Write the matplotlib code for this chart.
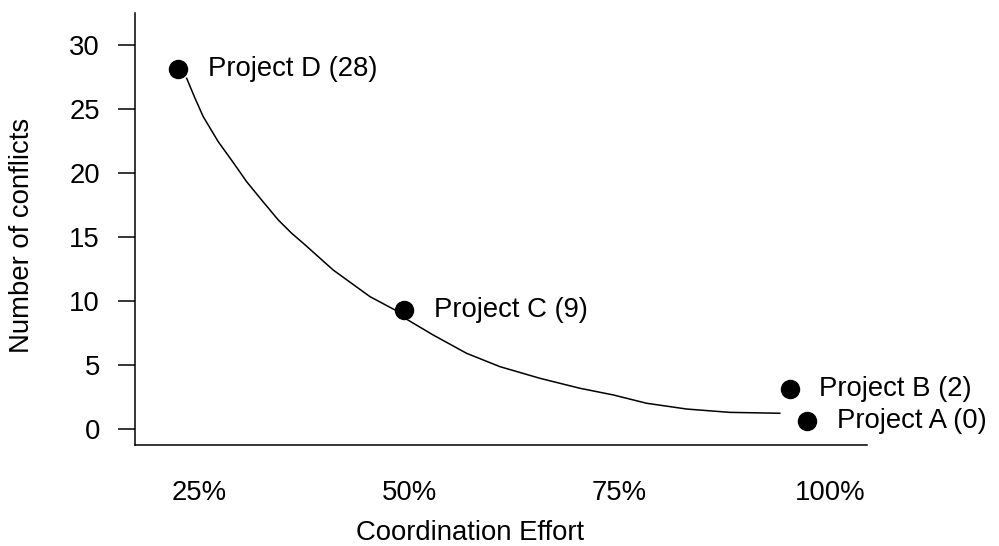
import matplotlib
matplotlib.use("Agg")
import matplotlib.pyplot as plt

plt.rcParams['font.family'] = ['Liberation Sans', 'DejaVu Sans']

# Project points (coordination effort %, number of conflicts)
project_names = ["Project D (28)", "Project C (9)", "Project B (2)", "Project A (0)"]
project_effort = [22.5, 49.4, 95.2, 97.3]
project_conflicts = [28.1, 9.3, 3.1, 0.6]

# Trend curve
curve_effort = [23.54, 24.52, 25.51, 27.29, 29.28, 30.67, 32.45, 34.43, 36.02,
                37.40, 40.96, 45.33, 48.30, 49.49, 52.85, 56.82, 60.78, 65.53,
                70.29, 74.25, 78.21, 82.97, 88.08, 94.03]
curve_conflicts = [27.40, 25.86, 24.40, 22.45, 20.63, 19.32, 17.89, 16.33, 15.29,
                   14.51, 12.42, 10.34, 9.30, 8.65, 7.34, 5.91, 4.87, 3.96,
                   3.18, 2.66, 2.01, 1.56, 1.30, 1.23]

x_ticks = [25, 50, 75, 100]
x_tick_labels = ["25%", "50%", "75%", "100%"]
y_ticks = [0, 5, 10, 15, 20, 25, 30]

FS = 19.8

fig = plt.figure(figsize=(9.99, 5.46), dpi=100)
ax = fig.add_axes([135/999, 1-445/546, (867-135)/999, (445-13)/546])

ax.plot(curve_effort, curve_conflicts, color='black', lw=1.1, solid_joinstyle='round')
ax.plot(project_effort, project_conflicts, 'o', color='black', markersize=13, ls='none')
for name, x, y in zip(project_names, project_effort, project_conflicts):
    ax.annotate(name, (x, y), xytext=(21.5, 0), textcoords='offset points',
                va='center', ha='left', fontsize=FS)

ax.set_xlim(17.4, 104.4)
ax.set_ylim(-1.25, 32.5)
ax.set_xticks(x_ticks)
ax.set_xticklabels(x_tick_labels)
ax.set_yticks(y_ticks)

ax.spines['top'].set_visible(False)
ax.spines['right'].set_visible(False)
ax.spines['left'].set_linewidth(1.1)
ax.spines['bottom'].set_linewidth(1.1)

ax.tick_params(axis='x', length=0, pad=25, labelsize=FS)
ax.tick_params(axis='y', length=12.2, width=1.1, pad=13, labelsize=FS, direction='out')

fig.text(22/999, 1-235/546, "Number of conflicts", rotation=90, ha='center', va='center', fontsize=FS)
fig.text(470/999, 1-533/546, "Coordination Effort", ha='center', va='center', fontsize=FS)

fig.savefig("out.png", dpi=100)
